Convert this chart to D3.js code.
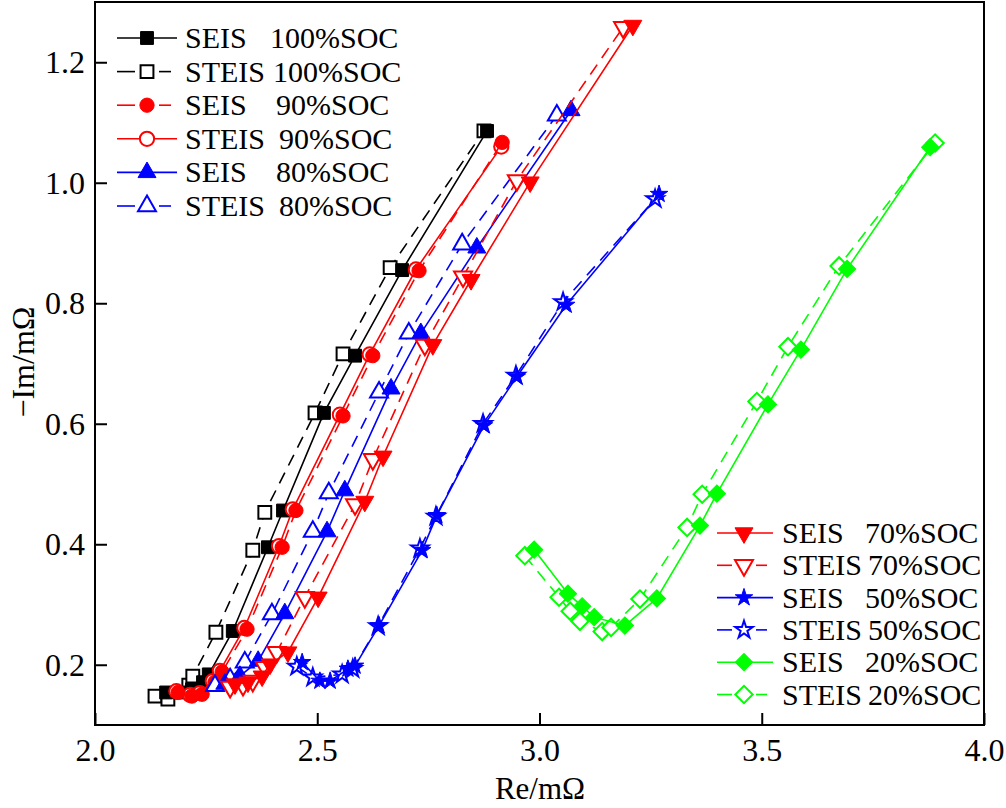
<!DOCTYPE html>
<html><head><meta charset="utf-8">
<script src="https://cdn.jsdelivr.net/npm/d3@7"></script>
<style>
body{margin:0;background:#fff}
svg{display:block}
text{font-family:"Liberation Serif","Times New Roman",serif;fill:#000}
</style>
</head><body>
<svg id="c" width="1006" height="808"></svg>
<script>
// ---- data ----
const xTicks = [2.0, 2.5, 3.0, 3.5, 4.0];
const yTicks = [0.2, 0.4, 0.6, 0.8, 1.0, 1.2];

const seis100 = [[2.160,0.154],[2.191,0.154],[2.218,0.159],[2.243,0.171],[2.256,0.184],[2.310,0.256],[2.389,0.395],[2.423,0.456],[2.515,0.618],[2.585,0.713],[2.691,0.855],[2.882,1.086]];
const steis100 = [[2.135,0.148],[2.164,0.143],[2.211,0.166],[2.220,0.181],[2.272,0.254],[2.355,0.390],[2.382,0.453],[2.495,0.618],[2.558,0.716],[2.664,0.859],[2.875,1.086]];
const seis90 = [[2.187,0.154],[2.218,0.148],[2.241,0.151],[2.270,0.171],[2.286,0.188],[2.342,0.259],[2.421,0.395],[2.452,0.456],[2.558,0.613],[2.625,0.713],[2.729,0.854],[2.916,1.067]];
const steis90 = [[2.183,0.156],[2.214,0.150],[2.236,0.153],[2.265,0.173],[2.281,0.190],[2.336,0.261],[2.414,0.397],[2.445,0.458],[2.551,0.615],[2.618,0.715],[2.722,0.856],[2.914,1.060]];
const seis80 = [[2.292,0.168],[2.326,0.181],[2.367,0.206],[2.427,0.285],[2.522,0.421],[2.562,0.489],[2.666,0.658],[2.733,0.750],[2.859,0.892],[3.071,1.120]];
const steis80 = [[2.270,0.165],[2.304,0.176],[2.337,0.204],[2.398,0.284],[2.490,0.421],[2.526,0.485],[2.639,0.652],[2.706,0.750],[2.826,0.898],[3.039,1.112]];
const seis70 = [[2.315,0.168],[2.344,0.171],[2.376,0.181],[2.394,0.201],[2.434,0.221],[2.502,0.312],[2.607,0.471],[2.648,0.546],[2.760,0.731],[2.846,0.839],[2.979,1.001],[3.210,1.261]];
const steis70 = [[2.304,0.163],[2.333,0.166],[2.355,0.173],[2.382,0.196],[2.409,0.221],[2.472,0.312],[2.585,0.466],[2.625,0.541],[2.742,0.731],[2.828,0.844],[2.949,1.004],[3.188,1.258]];
const seis50 = [[2.466,0.204],[2.506,0.173],[2.529,0.173],[2.569,0.193],[2.585,0.198],[2.639,0.265],[2.736,0.390],[2.769,0.448],[2.875,0.597],[2.949,0.678],[3.060,0.797],[3.269,0.981]];
const steis50 = [[2.454,0.197],[2.490,0.179],[2.556,0.184],[2.580,0.193],[2.637,0.264],[2.731,0.393],[2.767,0.446],[2.873,0.600],[2.947,0.680],[3.053,0.802],[3.260,0.973]];
const seis20 = [[2.988,0.391],[3.064,0.318],[3.096,0.297],[3.123,0.279],[3.192,0.265],[3.264,0.310],[3.361,0.431],[3.399,0.484],[3.514,0.632],[3.588,0.723],[3.692,0.857],[3.879,1.059]];
const steis20 = [[2.967,0.381],[3.044,0.312],[3.069,0.289],[3.091,0.272],[3.141,0.255],[3.161,0.262],[3.226,0.309],[3.332,0.428],[3.366,0.483],[3.489,0.637],[3.559,0.728],[3.674,0.862],[3.890,1.066]];

const series = [
  {a:"SEIS", b:"100%SOC", data:seis100, color:"#000000", sym:"square", filled:true, dashed:false},
  {a:"STEIS", b:"100%SOC", data:steis100, color:"#000000", sym:"square", filled:false, dashed:true},
  {a:"SEIS", b:"90%SOC", data:seis90, color:"#ff0000", sym:"circle", filled:true, dashed:true},
  {a:"STEIS", b:"90%SOC", data:steis90, color:"#ff0000", sym:"circle", filled:false, dashed:false},
  {a:"SEIS", b:"80%SOC", data:seis80, color:"#0000ff", sym:"triangle", filled:true, dashed:false},
  {a:"STEIS", b:"80%SOC", data:steis80, color:"#0000ff", sym:"triangle", filled:false, dashed:true},
  {a:"SEIS", b:"70%SOC", data:seis70, color:"#ff0000", sym:"tridown", filled:true, dashed:false},
  {a:"STEIS", b:"70%SOC", data:steis70, color:"#ff0000", sym:"tridown", filled:false, dashed:true},
  {a:"SEIS", b:"50%SOC", data:seis50, color:"#0000ff", sym:"star", filled:true, dashed:false},
  {a:"STEIS", b:"50%SOC", data:steis50, color:"#0000ff", sym:"star", filled:false, dashed:true},
  {a:"SEIS", b:"20%SOC", data:seis20, color:"#00ff00", sym:"diamond", filled:true, dashed:false},
  {a:"STEIS", b:"20%SOC", data:steis20, color:"#00ff00", sym:"diamond", filled:false, dashed:true}
];

// ---- layout ----
const L = 95, R = 984, T = 2, B = 725;
const svg = d3.select("#c");
svg.append("rect").attr("width",1006).attr("height",808).attr("fill","#fff");
const x = d3.scaleLinear().domain([2.0,4.0]).range([L,R]);
const y = d3.scaleLinear().domain([0.1,1.3]).range([B,T]);

const symDefs = {
  square:{type:d3.symbolSquare,size:165,rot:0},
  circle:{type:d3.symbolCircle,size:160,rot:0},
  triangle:{type:d3.symbolTriangle,size:140,rot:0},
  tridown:{type:d3.symbolTriangle,size:140,rot:180},
  star:{type:d3.symbolStar,size:95,rot:0},
  diamond:{type:d3.symbolSquare,size:150,rot:45}
};
function drawMarker(g, s, cx, cy){
  const d = symDefs[s.sym];
  g.append("path")
    .attr("d", d3.symbol().type(d.type).size(d.size)())
    .attr("transform", `translate(${cx},${cy}) rotate(${d.rot})`)
    .attr("fill", s.filled ? s.color : "#fff")
    .attr("stroke", s.color)
    .attr("stroke-width", s.filled ? 1 : 2);
}

// axes
const xAxis = d3.axisBottom(x).tickValues(xTicks).tickFormat(d3.format(".1f")).tickSize(-12).tickPadding(13);
const gx = svg.append("g").attr("transform",`translate(0,${B})`).call(xAxis);
const yAxis = d3.axisLeft(y).tickValues(yTicks).tickFormat(d3.format(".1f")).tickSize(-12).tickPadding(10);
const gy = svg.append("g").attr("transform",`translate(${L},0)`).call(yAxis);
[gx,gy].forEach(g=>{
  g.select(".domain").remove();
  g.selectAll(".tick line").attr("stroke","#000").attr("stroke-width",2);
  g.selectAll(".tick text").attr("font-size",32).attr("font-family","Liberation Serif").attr("fill","#000");
});

// series: draw STEIS then SEIS for each pair
const plot = svg.append("g");
const line = d3.line().x(d=>x(d[0])).y(d=>y(d[1]));
const order = [1,0,3,2,5,4,7,6,9,8,11,10];
order.forEach(i=>{
  const s = series[i];
  const g = plot.append("g");
  g.append("path").attr("d", line(s.data)).attr("fill","none")
    .attr("stroke", s.color).attr("stroke-width",1.6)
    .attr("stroke-dasharray", s.dashed ? "12,8" : null);
  s.data.forEach(d=>drawMarker(g, s, x(d[0]), y(d[1])));
});

// frame
svg.append("rect").attr("x",L).attr("y",T).attr("width",R-L).attr("height",B-T)
  .attr("fill","none").attr("stroke","#000").attr("stroke-width",2);

// legends
function legend(items, lx0, lx1, mx, tx, y0, dy, bx){
  items.forEach((s,i)=>{
    const yy = y0 + i*dy;
    const g = svg.append("g");
    if(s.dashed){
      g.append("line").attr("x1",lx0).attr("x2",mx-12).attr("y1",yy).attr("y2",yy).attr("stroke",s.color).attr("stroke-width",1.6);
      g.append("line").attr("x1",mx+12).attr("x2",lx1-6).attr("y1",yy).attr("y2",yy).attr("stroke",s.color).attr("stroke-width",1.6);
    } else {
      g.append("line").attr("x1",lx0).attr("x2",lx1).attr("y1",yy).attr("y2",yy).attr("stroke",s.color).attr("stroke-width",1.6);
    }
    drawMarker(g, s, mx, yy);
    const t = g.append("text").attr("x",tx).attr("y",yy+10).attr("font-size",30);
    t.append("tspan").text(s.a);
    t.append("tspan").attr("x", bx[i]).text(s.b);
  });
}
legend(series.slice(0,6), 117, 177, 147, 185, 38, 33.6, [270,273,276,279,276,279]);
legend(series.slice(6,12), 717, 773, 744, 782, 533, 32.3, [865,868,865,868,865,868]);

// axis titles
svg.append("text").attr("x",540).attr("y",799).attr("text-anchor","middle").attr("font-size",31).text("Re/mΩ");
svg.append("text").attr("transform","translate(34,362) rotate(-90)").attr("text-anchor","middle").attr("font-size",32).text("−Im/mΩ");
</script>
</body></html>
